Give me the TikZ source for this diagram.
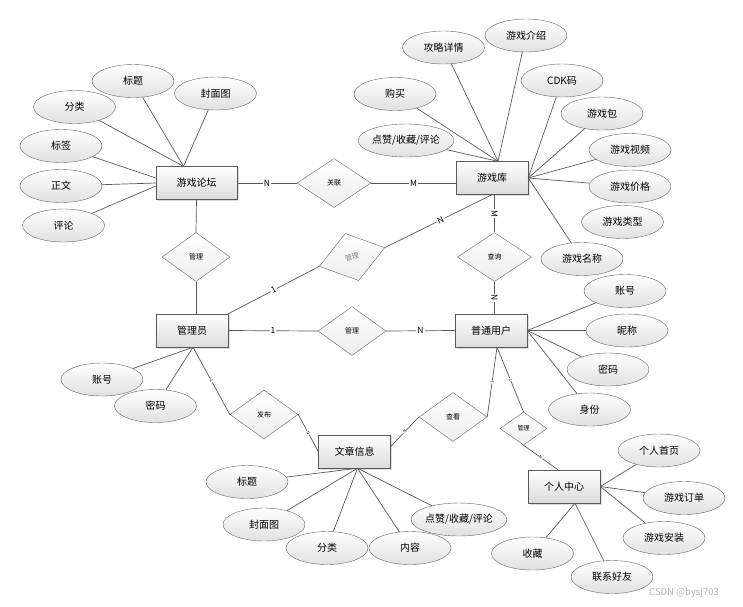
\documentclass[tikz,border=0pt]{standalone}
\usepackage{fontspec}
\setmainfont{Noto Sans CJK SC}
\usetikzlibrary{shapes.geometric,shadows}
\tikzset{
  ent/.style={draw=black!65, rectangle, minimum width=72pt, minimum height=33pt, inner sep=0pt,
    top color=white, bottom color=black!14,
    drop shadow={opacity=0.25, shadow xshift=1.5pt, shadow yshift=-1.5pt},
    font=\fontsize{10}{12}\selectfont},
  attr/.style={ellipse, draw=black!60, minimum width=82pt, minimum height=33pt, inner sep=0pt,
    top color=white, bottom color=black!12, font=\fontsize{10}{12}\selectfont},
  rel/.style={diamond, draw=black!60, minimum width=68pt, minimum height=49pt, inner sep=0pt,
    top color=white, bottom color=black!7, font=\fontsize{7}{8}\selectfont},
  conn/.style={draw=black!65, line width=0.7pt},
  lab/.style={fill=white, inner sep=1pt, font=\fontsize{8.5}{9}\selectfont},
  tick/.style={fill=white, inner sep=0.4pt, font=\fontsize{4}{4}\selectfont, sloped},
}
\begin{document}
\begin{tikzpicture}[x=1pt,y=-1pt]
\useasboundingbox (0,0) rectangle (743,606);

% entities
\node[ent, minimum width=81pt] (forum) at (196.5,183) {游戏论坛};
\node[ent] (lib) at (492,178) {游戏库};
\node[ent] (admin) at (192,330.5) {管理员};
\node[ent] (user) at (491,330.5) {普通用户};
\node[ent] (art) at (354.5,451.5) {文章信息};
\node[ent] (pc) at (564,486.5) {个人中心};

% relationships
\node[rel, minimum width=74pt] (r1) at (334,183) {关联};
\node[rel] (r2) at (196,257) {管理};
\node[rel, rotate=16, text=black!50] (r3) at (352,257) {管理};
\node[rel, minimum width=74pt] (r4) at (494.5,257) {查询};
\node[rel] (r5) at (352,331) {管理};
\node[rel] (r6) at (264,414.5) {发布};
\node[rel] (r7) at (453,417) {查看};
\node[rel, minimum width=47pt, minimum height=33pt, font=\fontsize{6}{7}\selectfont] (r8) at (523.5,428.5) {管理};

% forum attributes
\node[attr] (f1) at (133,81) {标题};
\node[attr] (f2) at (215.5,93.5) {封面图};
\node[attr] (f3) at (74.5,107) {分类};
\node[attr] (f4) at (61,146) {标签};
\node[attr] (f5) at (61,186) {正文};
\node[attr] (f6) at (63.5,225.5) {评论};
\coordinate (ftop) at ([xshift=-13pt]forum.north);
\draw[conn] (f1) -- (ftop);
\draw[conn] (f2) -- (ftop);
\draw[conn] (f3) -- (ftop);
\draw[conn] (f4) -- ([yshift=5pt]forum.west);
\draw[conn] (f5) -- (forum.west);
\draw[conn] (f6) -- ([yshift=-3pt]forum.west);

% library attributes
\node[attr] (g1) at (443.5,47.5) {攻略详情};
\node[attr] (g2) at (526,35.5) {游戏介绍};
\node[attr] (g3) at (395,94) {购买};
\node[attr] (g4) at (562,80.5) {CDK码};
\node[attr] (g5) at (406,140.5) {点赞/收藏/评论};
\node[attr] (g6) at (602,113.5) {游戏包};
\node[attr] (g7) at (630,150) {游戏视频};
\node[attr] (g8) at (630,186.5) {游戏价格};
\node[attr] (g9) at (622.5,222) {游戏类型};
\node[attr] (g10) at (582,259) {游戏名称};
\coordinate (ltop) at ([xshift=6pt]lib.north);
\draw[conn] (g1) -- (ltop);
\draw[conn] (g2) -- (ltop);
\draw[conn] (g3) -- (ltop);
\draw[conn] (g5) -- (ltop);
\draw[conn] (g4) -- (lib.east);
\draw[conn] (g6) -- (lib.east);
\draw[conn] (g7) -- (lib.east);
\draw[conn] (g8) -- (lib.east);
\draw[conn] (g10) -- (lib.east);

% user attributes
\node[attr] (u1) at (625,291) {账号};
\node[attr] (u2) at (627,330.5) {昵称};
\node[attr] (u3) at (608,369.5) {密码};
\node[attr] (u4) at (589.5,409.5) {身份};
\foreach \n in {u1,u2,u3,u4} \draw[conn] (\n) -- (user.east);

% admin attributes
\node[attr] (m1) at (102,379.5) {账号};
\node[attr] (m2) at (155.5,406) {密码};
\coordinate (abot) at ([xshift=1pt]admin.south);
\draw[conn] (m1) -- (abot);
\draw[conn] (m2) -- (abot);

% article attributes
\node[attr] (w1) at (247,482) {标题};
\node[attr] (w2) at (264,524.5) {封面图};
\node[attr] (w3) at (327,548) {分类};
\node[attr] (w4) at (410,548) {内容};
\node[attr] (w5) at (459,519.5) {点赞/收藏/评论};
\coordinate (wbot) at ([xshift=3pt]art.south);
\foreach \n in {w1,w2,w3,w4,w5} \draw[conn] (\n) -- (wbot);

% personal centre attributes
\node[attr] (p1) at (659,450.5) {个人首页};
\node[attr] (p2) at (684,498) {游戏订单};
\node[attr] (p3) at (664,538) {游戏安装};
\node[attr] (p4) at (532.5,553.5) {收藏};
\node[attr] (p5) at (612,577) {联系好友};
\draw[conn] (p1) -- (pc.east);
\draw[conn] (p2) -- (pc.east);
\draw[conn] (p3) -- (pc.east);
\coordinate (pbot) at ([xshift=11pt]pc.south);
\draw[conn] (p4) -- (pbot);
\draw[conn] (p5) -- (pbot);

% relationship connectors
\draw[conn] (forum.east) -- node[lab]{N} (r1.west);
\draw[conn] (r1.east) -- node[lab]{M} (r1.east -| lib.west);
\draw[conn] (forum.south) -- (r2.north);
\draw[conn] (r2.south) -- (r2.south |- admin.north);
\draw[conn] (admin.north east) -- node[lab, sloped]{1} (r3.west);
\draw[conn] (r3.east) -- node[lab, sloped, pos=0.52]{N} (lib.south);
\draw[conn] (r4.north |- lib.south) -- node[lab, sloped]{M} (r4.north);
\draw[conn] (r4.south) -- node[lab, sloped]{N} (r4.south |- user.north);
\draw[conn] (admin.east) -- node[lab]{1} (r5.west);
\draw[conn] (r5.east) -- node[lab]{N} (user.west);
\draw[conn] (abot) -- node[tick]{1} (r6.west);
\draw[conn] (r6.east) -- node[tick]{N} (art.west);
\draw[conn] ([yshift=5pt]art.east) -- node[tick]{N} (r7.west);
\coordinate (ubot) at ([xshift=6pt]user.south);
\draw[conn] (r7.east) -- node[tick]{1} (ubot);
\draw[conn] (ubot) -- node[tick]{1} (r8.north);
\draw[conn] (r8.south) -- node[tick]{N} ([xshift=-6pt]pc.north);

% watermark
\node[text=black!30, font=\fontsize{9.5}{11}\selectfont] (wm) at (684,593) {CSDN @bysj703};
\end{tikzpicture}
\end{document}
